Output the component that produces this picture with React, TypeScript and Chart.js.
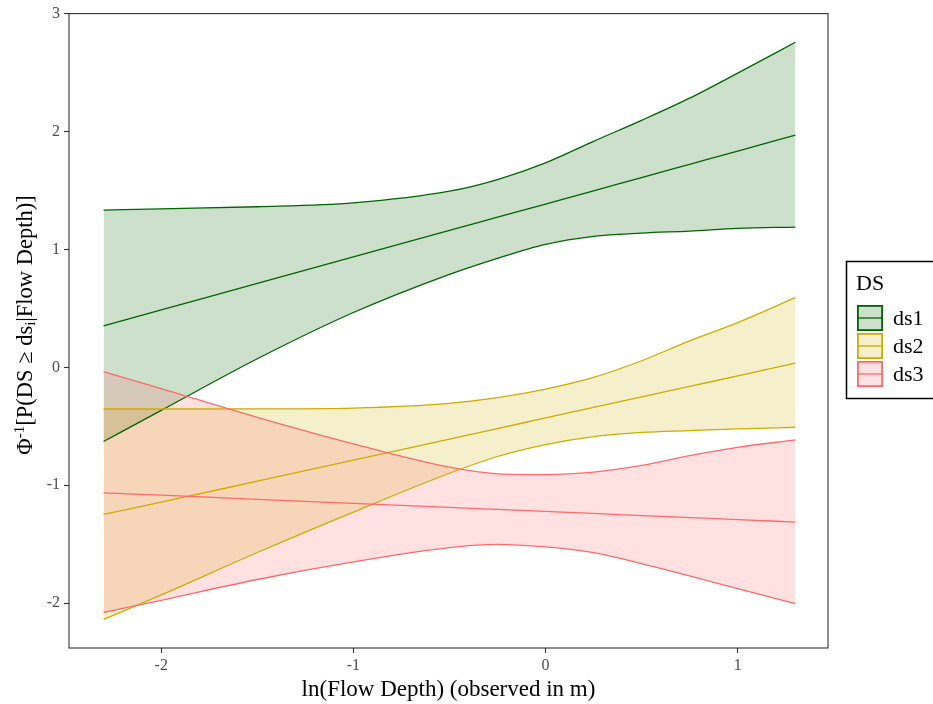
import { useEffect, useRef } from "react";
import { Chart, registerables } from "chart.js";

Chart.register(...registerables);

// ---- data ----
const xValues = [-2.3, -2, -1.5, -1, -0.5, -0.25, 0, 0.25, 0.5, 0.75, 1, 1.3];

const ds1Lower = [-0.629, -0.365, 0.073, 0.465, 0.789, 0.925, 1.043, 1.111, 1.139, 1.156, 1.178, 1.19];
const ds1Mean = [0.352, 0.487, 0.712, 0.936, 1.161, 1.273, 1.385, 1.497, 1.61, 1.722, 1.834, 1.969];
const ds1Upper = [1.333, 1.344, 1.362, 1.395, 1.494, 1.593, 1.734, 1.917, 2.095, 2.283, 2.495, 2.757];

const ds2Lower = [-2.138, -1.93, -1.57, -1.227, -0.898, -0.756, -0.655, -0.587, -0.551, -0.536, -0.522, -0.508];
const ds2Mean = [-1.247, -1.143, -0.965, -0.786, -0.608, -0.519, -0.429, -0.34, -0.251, -0.162, -0.072, 0.035];
const ds2Upper = [-0.353, -0.353, -0.352, -0.345, -0.305, -0.257, -0.184, -0.085, 0.056, 0.225, 0.38, 0.591];

const ds3Lower = [-2.079, -1.976, -1.799, -1.65, -1.529, -1.501, -1.523, -1.571, -1.664, -1.769, -1.876, -2.003];
const ds3Mean = [-1.064, -1.084, -1.119, -1.153, -1.188, -1.205, -1.222, -1.239, -1.257, -1.274, -1.291, -1.312];
const ds3Upper = [-0.037, -0.18, -0.424, -0.649, -0.847, -0.903, -0.91, -0.889, -0.832, -0.748, -0.678, -0.615];

const seriesNames = ["ds1", "ds2", "ds3"];
const legendTitle = "DS";
const xTicks = [-2, -1, 0, 1];
const yTicks = [-2, -1, 0, 1, 2, 3];
const xTitle = "ln(Flow Depth) (observed in m)";
// y title pieces: [text, kind]
const yTitleParts: [string, string][] = [
  ["Φ", "n"],
  ["-1", "sup"],
  ["[P(DS ≥ ds", "n"],
  ["i", "sub"],
  ["|Flow Depth)]", "n"],
];

const seriesColors = ["#006400", "#CDAD00", "#FF6A6A"];
const SERIF = '"Liberation Serif", "DejaVu Serif", serif';

function rgba(hex: string, a: number) {
  const n = parseInt(hex.slice(1), 16);
  return `rgba(${(n >> 16) & 255},${(n >> 8) & 255},${n & 255},${a})`;
}

const bands = [
  { lower: ds1Lower, mean: ds1Mean, upper: ds1Upper },
  { lower: ds2Lower, mean: ds2Mean, upper: ds2Upper },
  { lower: ds3Lower, mean: ds3Mean, upper: ds3Upper },
];

export default function App() {
  const ref = useRef<HTMLCanvasElement>(null);

  useEffect(() => {
    const canvas = ref.current;
    if (!canvas) return;

    const pts = (ys: number[]) => xValues.map((x, i) => ({ x, y: ys[i] }));
    const datasets: any[] = [];
    // reverse order so ds1 ribbon is painted first, ds3 on top
    for (let s = bands.length - 1; s >= 0; s--) {
      const b = bands[s];
      const c = seriesColors[s];
      const base = datasets.length;
      const common = {
        borderColor: c,
        borderWidth: 1.3,
        pointRadius: 0,
        pointHoverRadius: 0,
        cubicInterpolationMode: "monotone",
      };
      datasets.push({ ...common, label: seriesNames[s] + " lower", data: pts(b.lower), fill: false });
      datasets.push({ ...common, label: seriesNames[s], data: pts(b.mean), fill: false });
      datasets.push({
        ...common,
        label: seriesNames[s] + " upper",
        data: pts(b.upper),
        fill: { target: base },
        backgroundColor: rgba(c, 0.2),
      });
    }

    const panelBorder = {
      id: "panelBorder",
      afterDatasetsDraw(chart: any) {
        const { ctx, chartArea: a } = chart;
        ctx.save();
        ctx.strokeStyle = "#333333";
        ctx.lineWidth = 1.1;
        ctx.strokeRect(a.left, a.top, a.right - a.left, a.bottom - a.top);
        ctx.restore();
      },
    };

    const yTitlePlugin = {
      id: "yTitle",
      afterDraw(chart: any) {
        const { ctx } = chart;
        const big = `22.5px ${SERIF}`;
        const small = `15px ${SERIF}`;
        ctx.save();
        ctx.fillStyle = "#000";
        ctx.textBaseline = "middle";
        ctx.textAlign = "left";
        let total = 0;
        const widths = yTitleParts.map(([t, k]) => {
          ctx.font = k === "n" ? big : small;
          const w = ctx.measureText(t).width;
          total += w;
          return w;
        });
        ctx.translate(26, 325);
        ctx.rotate(-Math.PI / 2);
        let x = -total / 2;
        yTitleParts.forEach(([t, k], i) => {
          ctx.font = k === "n" ? big : small;
          const dy = k === "sup" ? -6 : k === "sub" ? 5 : 0;
          ctx.fillText(t, x, dy);
          x += widths[i];
        });
        ctx.restore();
      },
    };

    const legendPlugin = {
      id: "dsLegend",
      afterDraw(chart: any) {
        const { ctx } = chart;
        ctx.save();
        ctx.strokeStyle = "#000";
        ctx.lineWidth = 1.5;
        ctx.strokeRect(846.5, 261.5, 100, 137);
        ctx.fillStyle = "#000";
        ctx.textBaseline = "middle";
        ctx.textAlign = "left";
        ctx.font = `22px ${SERIF}`;
        ctx.fillText(legendTitle, 856, 284);
        seriesNames.forEach((name, i) => {
          const c = seriesColors[i];
          const y0 = 305 + i * 28;
          const size = 26;
          ctx.fillStyle = rgba(c, 0.2);
          ctx.fillRect(857, y0, size, size);
          ctx.strokeStyle = c;
          ctx.lineWidth = 1.8;
          ctx.strokeRect(857.9, y0 + 0.9, size - 1.8, size - 1.8);
          ctx.lineWidth = 1.3;
          ctx.beginPath();
          ctx.moveTo(857, y0 + size / 2);
          ctx.lineTo(857 + size, y0 + size / 2);
          ctx.stroke();
          ctx.fillStyle = "#000";
          ctx.font = `22px ${SERIF}`;
          ctx.fillText(name, 893, y0 + size / 2 + 1);
        });
        ctx.restore();
      },
    };

    const chart = new Chart(canvas, {
      type: "line",
      data: { datasets },
      options: {
        animation: false,
        responsive: true,
        maintainAspectRatio: false,
        layout: { padding: { left: 0, right: 105, top: 12, bottom: 0 } },
        plugins: {
          legend: { display: false },
          tooltip: { enabled: false },
          filler: { drawTime: "beforeDatasetsDraw" } as any,
        },
        scales: {
          x: {
            type: "linear",
            min: -2.48,
            max: 1.47,
            afterBuildTicks: (s: any) => {
              s.ticks = xTicks.map((v) => ({ value: v }));
            },
            afterFit: (s: any) => {
              s.height = 56;
            },
            grid: { drawOnChartArea: false, drawTicks: true, tickLength: 5, tickColor: "#333333", tickWidth: 1.1 },
            border: { display: false },
            ticks: {
              color: "#4D4D4D",
              font: { family: SERIF, size: 16 },
              padding: 3,
              maxRotation: 0,
              callback: (v: any) => String(v),
            },
            title: {
              display: true,
              text: xTitle,
              color: "#000",
              font: { family: SERIF, size: 23 },
              padding: { top: 0, bottom: 0 },
            },
          },
          y: {
            type: "linear",
            min: -2.38,
            max: 3,
            afterBuildTicks: (s: any) => {
              s.ticks = yTicks.map((v) => ({ value: v }));
            },
            afterFit: (s: any) => {
              s.width = 69;
            },
            grid: { drawOnChartArea: false, drawTicks: true, tickLength: 5, tickColor: "#333333", tickWidth: 1.1 },
            border: { display: false },
            ticks: {
              color: "#4D4D4D",
              font: { family: SERIF, size: 16 },
              padding: 4,
              callback: (v: any) => String(v),
            },
          },
        },
      },
      plugins: [panelBorder, yTitlePlugin, legendPlugin],
    } as any);

    return () => chart.destroy();
  }, []);

  return (
    <div style={{ position: "absolute", left: 0, top: 0, width: 933, height: 704, overflow: "hidden", background: "#fff" }}>
      <canvas ref={ref} />
    </div>
  );
}
